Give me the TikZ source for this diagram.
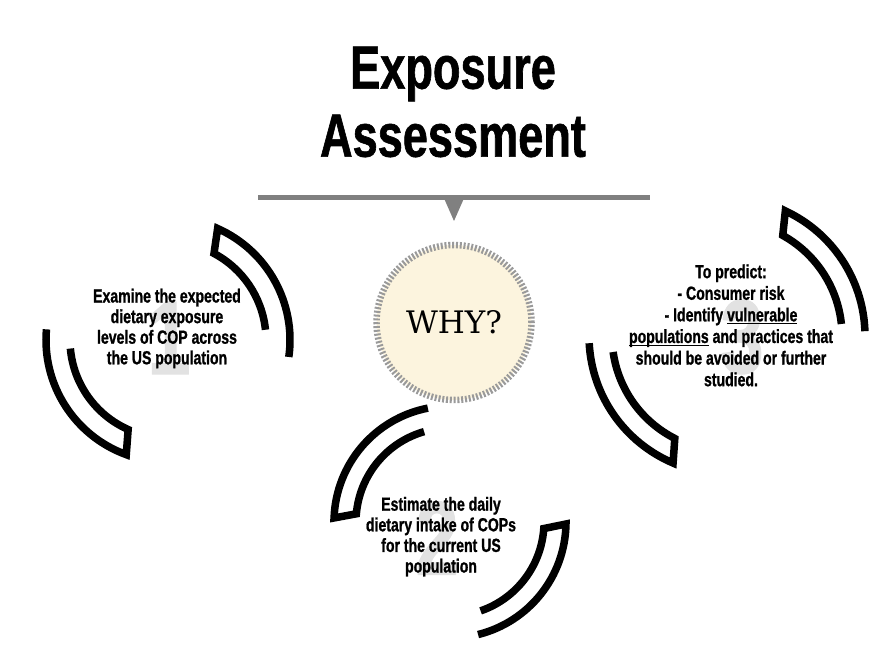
\documentclass[tikz,border=0pt]{standalone}
\usepackage{fontspec}
\newfontfamily\condfont[FakeStretch=0.74, BoldFeatures={FakeBold=1}]{Liberation Sans}
\newfontfamily\slabfont{DejaVu Serif}

\definecolor{cream}{HTML}{FCF4DE}
\definecolor{ringgray}{HTML}{9A9A9A}
\definecolor{bargray}{HTML}{808080}
\definecolor{numgray}{HTML}{E2E2E2}

% underline with a heavier rule than \underline gives
\newsavebox\ulbox
\newcommand\undertext[1]{\sbox\ulbox{#1}\rlap{\rule[-3pt]{\wd\ulbox}{1.4pt}}\usebox\ulbox}

\tikzset{
  title/.style={font=\condfont\bfseries\fontsize{61}{68}\selectfont, align=center, inner sep=0pt},
  itemtext/.style={font=\condfont\bfseries\fontsize{19}{20.6}\selectfont, align=center, inner sep=0pt},
  bignum/.style={font=\condfont\bfseries\fontsize{105}{105}\selectfont, text=numgray, inner sep=0pt},
  bracket/.style={line width=7.5pt, line join=miter},
}

\begin{document}
\begin{tikzpicture}[x=1pt, y=1pt]
\useasboundingbox (0,0) rectangle (883,658);

% heading and the bar under it
\node[title] (title) at (453,556) {Exposure\\Assessment};
\draw[bargray, line width=5pt] (258,460.5) -- (650,460.5);
\fill[bargray] (443,462) -- (465,462) -- (454,437) -- cycle;

% centre disc
\node[circle, fill=cream, draw=ringgray, line width=6.5pt, dash pattern=on 2pt off 1.8pt,
      minimum size=155pt, inner sep=0pt] (why) at (454,335.5) {\slabfont\fontsize{31}{31}\selectfont WHY?};

% the three pairs of curved brackets
\coordinate (c1) at (168,318);
\coordinate (c2) at (450,136);
\coordinate (c3) at (727,322);

\draw[bracket, shift={(c1)}] (-8:122) arc[start angle=-8, end angle=66, radius=122] -- (62:98) arc[start angle=62, end angle=6, radius=98];
\draw[bracket, shift={(c1)}] (175:122) arc[start angle=175, end angle=250, radius=122] -- (246:98) arc[start angle=246, end angle=185, radius=98];

\draw[bracket, shift={(c2)}] (101:116) arc[start angle=101, end angle=178, radius=116] -- (175:94) arc[start angle=175, end angle=106, radius=94];
\draw[bracket, shift={(c2)}] (-76:116) arc[start angle=-76, end angle=-1, radius=116] -- (-4:94) arc[start angle=-4, end angle=-71, radius=94];

\draw[bracket, shift={(c3)}] (2:138) arc[start angle=2, end angle=65, radius=138] -- (61:115) arc[start angle=61, end angle=6, radius=115];
\draw[bracket, shift={(c3)}] (183:138) arc[start angle=183, end angle=247, radius=138] -- (243:115) arc[start angle=243, end angle=188, radius=115];

% faint step numbers
\node[bignum] (num1) at (169,320) {1};
\node[bignum] (num2) at (437,120) {2};
\node[bignum] (num3) at (742,321) {3};

% step texts
\node[itemtext] (aim1) at (167,329.5) {Examine the expected\\dietary exposure\\levels of COP across\\the US population};
\node[itemtext] (aim2) at (441,121.3) {Estimate the daily\\dietary intake of COPs\\for the current US\\population};
\node[itemtext, font=\condfont\bfseries\fontsize{19}{21.6}\selectfont] (aim3) at (731,332.6)
  {To predict:\\- Consumer risk\\- Identify \undertext{vulnerable}\\\undertext{populations} and practices that\\should be avoided or further\\studied.};
\end{tikzpicture}
\end{document}
